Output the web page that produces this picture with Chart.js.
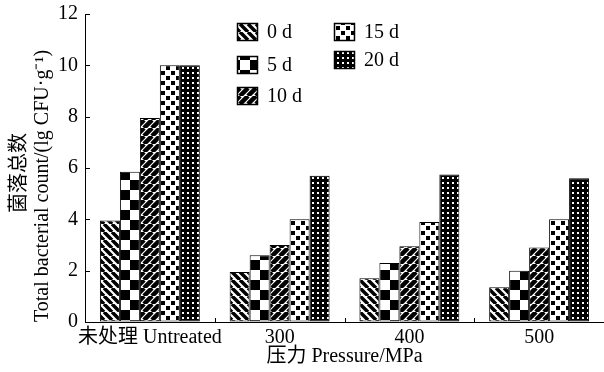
<!DOCTYPE html>
<html>
<head>
<meta charset="utf-8">
<script src="https://cdn.jsdelivr.net/npm/chart.js@4"></script>
<style>
  html, body { margin: 0; padding: 0; background: #fff; }
  #wrap { width: 604px; height: 372px; }
</style>
</head>
<body>
<div id="wrap"><canvas id="chart" width="604" height="372"></canvas></div>
<script>
const categories = ["未处理 Untreated", "300", "400", "500"];
const seriesNames = ["0 d", "5 d", "10 d", "15 d", "20 d"];
const day0 = [3.95, 1.95, 1.7, 1.35];
const day5 = [5.85, 2.6, 2.3, 2.0];
const day10 = [7.95, 3.0, 2.95, 2.9];
const day15 = [10.0, 4.0, 3.9, 4.0];
const day20 = [10.0, 5.7, 5.75, 5.6];
const yTicks = [0, 2, 4, 6, 8, 10, 12];
const yTitleCn = "菌落总数";
const yTitleEn = "Total bacterial count/(lg CFU·g⁻¹)";
const xTitle = "压力 Pressure/MPa";

const FONT = "'Liberation Serif', 'Noto Sans CJK SC', serif";

function tile(w, h, draw) {
  const c = document.createElement("canvas");
  c.width = w;
  c.height = h;
  const g = c.getContext("2d");
  g.fillStyle = "#fff";
  g.fillRect(0, 0, w, h);
  draw(g, w, h);
  return document.createElement("canvas").getContext("2d").createPattern(c, "repeat");
}

function stripes(dir, width) {
  return tile(8, 8, (g, s) => {
    g.strokeStyle = "#000";
    g.lineWidth = width;
    g.beginPath();
    for (let k = -1; k <= 1; k++) {
      if (dir > 0) {
        g.moveTo(k * s, 0);
        g.lineTo(k * s + s, s);
      } else {
        g.moveTo(k * s, s);
        g.lineTo(k * s + s, 0);
      }
    }
    g.stroke();
  });
}

const patterns = [
  stripes(1, 3.5),
  tile(20, 20, g => {
    g.fillStyle = "#000";
    g.fillRect(10, 0, 10, 10);
    g.fillRect(0, 10, 10, 10);
  }),
  stripes(-1, 4.5),
  tile(10, 10, g => {
    g.fillStyle = "#000";
    g.fillRect(1, 1, 4, 4);
    g.fillRect(6, 6, 4, 4);
  }),
  tile(5, 5, g => {
    g.fillStyle = "#000";
    g.fillRect(0, 0, 5, 5);
    g.fillStyle = "#fff";
    g.fillRect(2, 2, 2, 2);
  })
];

const seriesData = [day0, day5, day10, day15, day20];

// inward tick marks on both axes
const innerTicks = {
  id: "innerTicks",
  afterDatasetsDraw(chart) {
    const { ctx, scales: { x, y }, chartArea } = chart;
    ctx.save();
    ctx.strokeStyle = "#000";
    ctx.lineWidth = 1;
    ctx.beginPath();
    for (const v of yTicks) {
      const py = Math.round(y.getPixelForValue(v)) + 0.5;
      ctx.moveTo(chartArea.left, py);
      ctx.lineTo(chartArea.left + 5, py);
    }
    for (let i = 0; i < categories.length - 1; i++) {
      const px = Math.round(x.getPixelForValue(i + 0.5)) + 0.5;
      ctx.moveTo(px, chartArea.bottom);
      ctx.lineTo(px, chartArea.bottom - 4);
    }
    ctx.stroke();
    ctx.restore();
  }
};

// axis titles
const axisTitles = {
  id: "axisTitles",
  afterDraw(chart) {
    const { ctx, chartArea } = chart;
    const midY = (chartArea.top + chartArea.bottom) / 2;
    ctx.save();
    ctx.fillStyle = "#000";
    ctx.font = "20px " + FONT;
    ctx.textAlign = "center";
    ctx.textBaseline = "middle";
    ctx.fillText(xTitle, (chartArea.left + chartArea.right) / 2, 357);
    ctx.rotate(-Math.PI / 2);
    ctx.fillText(yTitleCn, -(midY + 5), 20);
    ctx.fillText(yTitleEn, -(midY + 18), 43);
    ctx.restore();
  }
};

// two-column legend
const legendBoxes = {
  id: "legendBoxes",
  afterDraw(chart) {
    const ctx = chart.ctx;
    const cols = [{ x: 237, ys: [23, 56, 87] }, { x: 334, ys: [23, 51] }];
    ctx.save();
    ctx.font = "20px " + FONT;
    ctx.textBaseline = "middle";
    seriesNames.forEach((name, i) => {
      const col = i < 3 ? cols[0] : cols[1];
      const bx = col.x, by = col.ys[i < 3 ? i : i - 3];
      ctx.fillStyle = patterns[i];
      ctx.fillRect(bx, by, 21, 18);
      ctx.strokeStyle = "#000";
      ctx.lineWidth = 1.5;
      ctx.strokeRect(bx + 0.5, by + 0.5, 20, 17);
      ctx.fillStyle = "#000";
      ctx.fillText(name, bx + 30, by + 10);
    });
    ctx.restore();
  }
};

new Chart(document.getElementById("chart"), {
  type: "bar",
  data: {
    labels: categories,
    datasets: seriesNames.map((name, i) => ({
      label: name,
      data: seriesData[i],
      backgroundColor: patterns[i],
      borderColor: "#000",
      borderWidth: 1,
      borderSkipped: false
    }))
  },
  options: {
    responsive: false,
    animation: false,
    devicePixelRatio: 1,
    layout: { padding: { left: 0, right: 0, top: 0, bottom: 0 } },
    categoryPercentage: 0.77,
    barPercentage: 1,
    plugins: {
      legend: { display: false },
      tooltip: { enabled: false }
    },
    scales: {
      x: {
        afterFit: axis => { axis.height = 50; },
        grid: { display: false },
        border: { display: true, color: "#000", width: 1 },
        ticks: {
          color: "#000",
          font: { family: FONT, size: 20 },
          padding: -4,
          maxRotation: 0,
          autoSkip: false
        }
      },
      y: {
        min: 0,
        max: 12,
        afterFit: axis => { axis.width = 85; },
        afterBuildTicks: axis => { axis.ticks = yTicks.map(v => ({ value: v })); },
        grid: { drawOnChartArea: false, drawTicks: false },
        border: { display: true, color: "#000", width: 1 },
        ticks: { color: "#000", font: { family: FONT, size: 20, lineHeight: 0.7 }, padding: 7 }
      }
    }
  },
  plugins: [innerTicks, axisTitles, legendBoxes]
});
</script>
</body>
</html>
